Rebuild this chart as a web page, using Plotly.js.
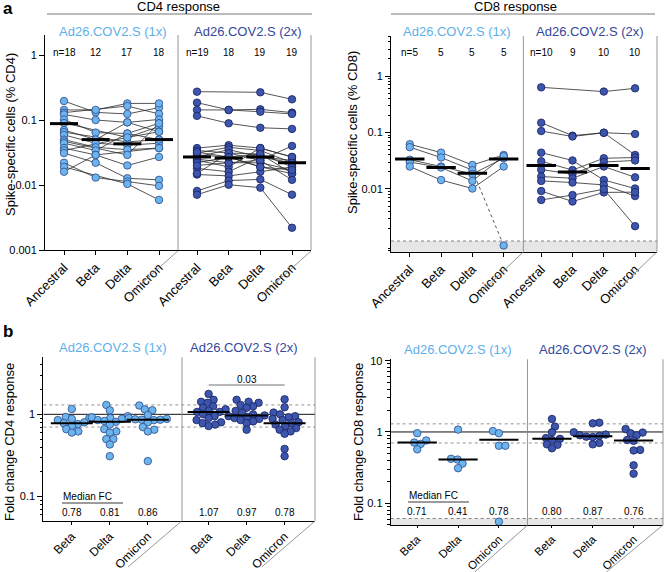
<!DOCTYPE html>
<html><head><meta charset="utf-8">
<script src="https://cdn.plot.ly/plotly-3.0.1.min.js"></script>
<style>html,body{margin:0;padding:0;background:#fff;} #chart{width:664px;height:572px;}</style>
</head><body><div id="chart"></div>
<script>
// ---------------- DATA ----------------
const variants4 = ['Ancestral','Beta','Delta','Omicron'];
const variants3 = ['Beta','Delta','Omicron'];
const group1x = 'Ad26.COV2.S (1x)';
const group2x = 'Ad26.COV2.S (2x)';

// CD4 % spike-specific, per subject: [Ancestral, Beta, Delta, Omicron]
const cd4_1x = [
 [0.196,0.131,0.124,0.155],[0.143,0.143,0.180,0.180],[0.130,null,0.164,0.124],
 [0.122,0.100,0.092,0.102],[0.102,0.064,0.062,0.089],[0.090,null,0.054,0.079],
 [0.070,0.050,0.092,0.066],[0.065,null,0.046,0.050],[0.059,0.044,0.041,0.044],
 [0.050,0.038,0.035,0.037],[0.047,null,0.029,0.089],[0.044,0.034,0.062,0.050],
 [0.037,0.029,0.020,0.027],[0.034,null,0.054,0.066],[0.031,0.022,0.0127,0.012],
 [0.022,0.013,0.0113,0.0097],[0.019,null,0.0104,0.0059],[0.016,0.029,null,0.037]
];
const cd4_2x = [
 [0.273,null,0.267,0.208],[0.185,0.143,0.146,0.130],[0.143,0.143,0.134,0.124],
 [0.116,0.089,0.076,0.073],[0.037,0.041,0.037,0.027],[0.034,0.031,0.024,0.040],
 [0.031,0.038,0.034,0.022],[0.029,0.027,0.030,0.019],[0.027,0.035,0.027,0.024],
 [0.025,0.022,0.022,0.017],[0.024,0.019,0.037,0.027],[0.022,0.027,0.019,0.015],
 [0.018,0.016,0.027,0.022],[0.0145,0.0138,0.016,0.019],[0.015,0.031,0.030,0.015],
 [0.0081,0.0117,0.0122,0.0071],[0.0071,0.0101,0.0091,0.0022],[0.020,0.022,0.024,0.012],
 [0.032,0.027,0.019,0.017]
];
const cd4_n1x = ['n=18','12','17','18'];
const cd4_n2x = ['n=19','18','19','19'];
const cd4_med1x = [0.088,0.050,0.043,0.050];
const cd4_med2x = [0.027,0.026,0.027,0.022];

// CD8 % spike-specific
const cd8_1x = [
 [0.062,0.044,0.0266,0.040],[0.055,0.036,0.0216,0.001],[0.033,0.025,0.0184,0.035],
 [0.030,0.024,0.0139,0.038],[0.025,0.0144,0.0102,0.025]
];
const cd8_2x = [
 [0.63,null,0.53,0.605],[0.149,0.088,0.099,0.094],[0.106,0.085,0.099,0.040],
 [0.044,0.032,0.0144,0.0102],[0.031,0.0216,0.035,0.036],[0.022,0.0184,0.030,0.032],
 [0.0166,0.0155,0.025,0.0161],[0.0139,0.0130,0.0118,0.0075],[0.0092,0.0060,0.0087,0.0088],
 [0.0064,0.0078,0.0099,0.0022]
];
const cd8_n1x = ['n=5','5','5','5'];
const cd8_n2x = ['n=10','9','10','10'];
const cd8_med1x = [0.034,0.024,0.019,0.034];
const cd8_med2x = [0.026,0.020,0.026,0.023];
const cd8_lod = 0.0012;

// Fold change CD4
const fc4_1x_beta = [1.16,0.93,0.90,0.88,0.85,0.80,0.78,0.76,0.72,0.66,0.62,0.60];
const fc4_1x_delta = [1.30,1.12,0.95,0.92,0.90,0.88,0.85,0.83,0.81,0.75,0.66,0.62,0.60,0.50,0.50,0.43,0.31];
const fc4_1x_omicron = [1.28,1.15,1.12,0.98,0.90,0.88,0.87,0.86,0.86,0.85,0.80,0.70,0.65,0.62,0.27];
const fc4_2x_beta = [1.77,1.50,1.42,1.38,1.25,1.20,1.15,1.10,1.07,1.07,1.00,0.95,0.90,0.85,0.80,0.78,0.75,0.72];
const fc4_2x_delta = [1.50,1.42,1.38,1.30,1.25,1.20,1.10,1.05,1.00,0.97,0.95,0.93,0.90,0.88,0.85,0.82,0.78,0.65];
const fc4_2x_omicron = [1.52,1.22,1.05,1.00,0.95,0.92,0.88,0.85,0.80,0.78,0.75,0.72,0.68,0.65,0.62,0.58,0.38,0.31];
const fc4_med1x = [0.78,0.81,0.86];
const fc4_med2x = [1.07,0.97,0.78];
const fc4_pvalue = '0.03';

// Fold change CD8
const fc8_1x_beta = [0.96,0.76,0.71,0.68,0.57];
const fc8_1x_delta = [1.08,0.42,0.41,0.36,0.31];
const fc8_1x_omicron = [1.03,0.96,0.64,0.64,0.055];
const fc8_2x_beta = [1.52,1.19,0.99,0.82,0.80,0.77,0.67,0.66,0.59];
const fc8_2x_delta = [1.35,1.32,0.99,0.92,0.90,0.88,0.86,0.85,0.70,0.67];
const fc8_2x_omicron = [1.10,0.98,0.96,0.90,0.77,0.75,0.56,0.55,0.34,0.26];
const fc8_med1x = [0.71,0.41,0.78];
const fc8_med2x = [0.80,0.87,0.76];
const fc8_lod = 0.061;

const fcRefLine = 1;
const fcBand = [0.7, 1.3];

// ---------------- STYLE / LAYOUT ----------------
const W = 664, H = 572;
const px = p => p / W, py = p => 1 - p / H;
const FONT = 'Arial, "Liberation Sans", sans-serif';
const LIGHT = '#6cb4ee', DARK = '#3c55ad';
const LIGHT_EDGE = '#2f4a86', DARK_EDGE = '#18215e';
const LIGHT_TXT = '#5eb0ea', DARK_TXT = '#33479c';
const GREY = '#8a8a8a';

const top1 = [0,1,2,3], top2 = [4.2,5.2,6.2,7.2];
const cd4XR = [-0.6,7.8], cd8XR = [-0.6,7.9];
const fc1 = [0,1,2], fc4p2 = [3.6,4.6,5.6], fc8p2 = [3.3,4.3,5.3];
const fc4XR = [-0.75,6.4], fc8XR = [-0.65,6.02];

const traces = [];

function pairedLines(subjects, pos, xa, ya, lod){
  const sx=[], sy=[], dx=[], dy=[];
  subjects.forEach(s => {
    const pts = [];
    s.forEach((v,i) => { if(v!==null) pts.push([pos[i], v]); });
    for(let k=0;k<pts.length-1;k++){
      const a=pts[k], b=pts[k+1];
      const dashed = lod && (a[1] < lod || b[1] < lod);
      (dashed?dx:sx).push(a[0], b[0], null);
      (dashed?dy:sy).push(a[1], b[1], null);
    }
  });
  traces.push({x:sx,y:sy,mode:'lines',line:{color:'#2a2a2a',width:0.8},xaxis:xa,yaxis:ya,hoverinfo:'skip'});
  if(dx.length) traces.push({x:dx,y:dy,mode:'lines',line:{color:'#2a2a2a',width:0.8,dash:'dot'},xaxis:xa,yaxis:ya,hoverinfo:'skip'});
}
function pairedPoints(subjects, pos, fill, edge, xa, ya){
  const x=[], y=[];
  subjects.forEach(s => s.forEach((v,i) => { if(v!==null){ x.push(pos[i]); y.push(v); } }));
  traces.push({x,y,mode:'markers',marker:{size:7.5,color:fill,line:{color:edge,width:0.8}},xaxis:xa,yaxis:ya});
}
function medianBars(meds, pos, xa, ya, w, t){
  traces.push({x:pos,y:meds,mode:'markers',marker:{symbol:'line-ew',size:w,color:'#000',line:{color:'#000',width:t}},xaxis:xa,yaxis:ya});
}
function swarm(vals, pxX, pxDec, diam){
  const idx = vals.map((v,i)=>i).sort((a,b)=>vals[a]-vals[b]);
  const placed=[], off=new Array(vals.length);
  let flip = 1;
  idx.forEach(i => {
    const y = Math.log10(vals[i]) * pxDec;
    let best = null;
    for(let k=0;k<400 && best===null;k++){
      const c = k*0.5;
      const cands = k===0 ? [0] : [flip*c, -flip*c];
      for(const cc of cands){
        if(placed.every(p => Math.hypot(p.x-cc, p.y-y) >= diam)){ best = cc; break; }
      }
    }
    if(best !== 0) flip = best > 0 ? -1 : 1;
    placed.push({x:best,y}); off[i] = best / pxX;
  });
  return off;
}
function swarmPoints(vals, center, pxX, pxDec, fill, edge, xa, ya){
  const off = swarm(vals, pxX, pxDec, 6.3);
  traces.push({x:vals.map((v,i)=>center+off[i]),y:vals,mode:'markers',
    marker:{size:7.5,color:fill,line:{color:edge,width:0.8}},xaxis:xa,yaxis:ya});
}
function hline(yv, xr, xa, ya, color, width, dash){
  traces.push({x:[xr[0],xr[1]],y:[yv,yv],mode:'lines',line:{color,width,dash},xaxis:xa,yaxis:ya,hoverinfo:'skip'});
}
function band(y0, y1, xr, xa, ya){
  traces.push({x:[xr[0],xr[1],xr[1],xr[0],xr[0]],y:[y0,y0,y1,y1,y0],mode:'lines',fill:'toself',
    fillcolor:'#e6e6e6',line:{width:0},xaxis:xa,yaxis:ya,hoverinfo:'skip'});
  hline(y1, xr, xa, ya, '#666', 0.8, 'dot');
}

// Panel a - CD4
pairedLines(cd4_1x, top1, 'x', 'y');
pairedLines(cd4_2x, top2, 'x', 'y');
pairedPoints(cd4_1x, top1, LIGHT, LIGHT_EDGE, 'x', 'y');
pairedPoints(cd4_2x, top2, DARK, DARK_EDGE, 'x', 'y');
medianBars(cd4_med1x, top1, 'x', 'y', 20, 3);
medianBars(cd4_med2x, top2, 'x', 'y', 20, 3);

// Panel a - CD8
band(0.0005, cd8_lod, cd8XR, 'x2', 'y2');
pairedLines(cd8_1x, top1, 'x2', 'y2', cd8_lod);
pairedLines(cd8_2x, top2, 'x2', 'y2', cd8_lod);
pairedPoints(cd8_1x, top1, LIGHT, LIGHT_EDGE, 'x2', 'y2');
pairedPoints(cd8_2x, top2, DARK, DARK_EDGE, 'x2', 'y2');
medianBars(cd8_med1x, top1, 'x2', 'y2', 21, 3);
medianBars(cd8_med2x, top2, 'x2', 'y2', 21, 3);

// Panel b - FC CD4
hline(fcBand[1], fc4XR, 'x3', 'y3', '#777', 0.8, 'dot');
hline(fcBand[0], fc4XR, 'x3', 'y3', '#777', 0.8, 'dot');
hline(fcRefLine, fc4XR, 'x3', 'y3', '#111', 1, 'solid');
[fc4_1x_beta, fc4_1x_delta, fc4_1x_omicron].forEach((v,i)=>swarmPoints(v, fc1[i], 38, 82.3, LIGHT, LIGHT_EDGE, 'x3','y3'));
[fc4_2x_beta, fc4_2x_delta, fc4_2x_omicron].forEach((v,i)=>swarmPoints(v, fc4p2[i], 38, 82.3, DARK, DARK_EDGE, 'x3','y3'));
medianBars(fc4_med1x, fc1, 'x3', 'y3', 30, 2);
medianBars(fc4_med2x, fc4p2, 'x3', 'y3', 30, 2);

// Panel b - FC CD8
band(0.03, fc8_lod, fc8XR, 'x4', 'y4');
hline(fcBand[1], fc8XR, 'x4', 'y4', '#777', 0.8, 'dot');
hline(fcBand[0], fc8XR, 'x4', 'y4', '#777', 0.8, 'dot');
hline(fcRefLine, fc8XR, 'x4', 'y4', '#111', 1, 'solid');
[fc8_1x_beta, fc8_1x_delta, fc8_1x_omicron].forEach((v,i)=>swarmPoints(v, fc1[i], 40.8, 71.2, LIGHT, LIGHT_EDGE, 'x4','y4'));
[fc8_2x_beta, fc8_2x_delta, fc8_2x_omicron].forEach((v,i)=>swarmPoints(v, fc8p2[i], 40.8, 71.2, DARK, DARK_EDGE, 'x4','y4'));
medianBars(fc8_med1x, fc1, 'x4', 'y4', 28, 2);
medianBars(fc8_med2x, fc8p2, 'x4', 'y4', 28, 2);

// ---------------- AXES ----------------
function minorLog(lo, hi){
  const v=[];
  for(let e=lo;e<=hi;e++) for(let m=2;m<=9;m++) v.push(m*Math.pow(10,e));
  return v;
}
const xBase = {ticks:'outside',ticklen:4,tickcolor:'#000',showline:true,linecolor:'#000',linewidth:1,
  showgrid:false,zeroline:false,tickangle:-45,tickfont:{family:FONT,size:13,color:'#000'},fixedrange:true};
const yBase = {type:'log',ticks:'outside',ticklen:5,tickcolor:'#000',showline:true,linecolor:'#000',linewidth:1,
  showgrid:false,zeroline:false,tickfont:{family:FONT,size:11,color:'#000'},fixedrange:true};
const xBottom = Object.assign({}, xBase, {ticklen:3, tickfont:{family:FONT,size:12,color:'#000'}});
const xBottomR = Object.assign({}, xBase, {ticklen:2, tickfont:{family:FONT,size:11.5,color:'#000'}});

const layout = {
  width:W, height:H, margin:{l:0,r:0,t:0,b:0}, showlegend:false,
  paper_bgcolor:'#fff', plot_bgcolor:'rgba(0,0,0,0)', font:{family:FONT,color:'#000'},
  xaxis: Object.assign({}, xBase, {domain:[px(45),px(311)], range:cd4XR, anchor:'y',
    tickvals:[...top1,...top2], ticktext:[...variants4,...variants4]}),
  yaxis: Object.assign({}, yBase, {domain:[py(250),py(35)], range:[-3,0.308], anchor:'x',
    tickvals:[0.001,0.01,0.1,1], ticktext:['0.001','0.01','0.1','1']}),
  xaxis2: Object.assign({}, xBase, {domain:[px(391),px(657)], range:cd8XR, anchor:'y2',
    tickvals:[...top1,...top2], ticktext:[...variants4,...variants4]}),
  yaxis2: Object.assign({}, yBase, {domain:[py(251.7),py(36)], range:[-3.11,0.708], anchor:'x2',
    tickvals:[0.01,0.1,1], ticktext:['0.01','0.1','1'],
    minor:{ticks:'outside',ticklen:2.5,tickcolor:'#000',tickvals:minorLog(-4,0)}}),
  xaxis3: Object.assign({}, xBottom, {domain:[px(43.3),px(315)], range:fc4XR, anchor:'y3',
    tickvals:[...fc1,...fc4p2], ticktext:[...variants3,...variants3]}),
  yaxis3: Object.assign({}, yBase, {domain:[py(520.7),py(357.3)], range:[-1.293,0.693], anchor:'x3',
    tickvals:[0.1,1], ticktext:['0.1','1'],
    minor:{ticks:'outside',ticklen:2.5,tickcolor:'#000',tickvals:minorLog(-2,0)}}),
  xaxis4: Object.assign({}, xBottomR, {domain:[px(390.7),px(663)], range:fc8XR, anchor:'y4',
    tickvals:[...fc1,...fc8p2], ticktext:[...variants3,...variants3]}),
  yaxis4: Object.assign({}, yBase, {domain:[py(525),py(359.3)], range:[-1.306,1.02], anchor:'x4',
    tickvals:[0.1,1,10], ticktext:['0.1','1','10'],
    minor:{ticks:'outside',ticklen:2.5,tickcolor:'#000',tickvals:minorLog(-2,0)}}),
};

// ---------------- SHAPES ----------------
const shapes = [];
function pline(x0,y0,x1,y1,color,width){
  shapes.push({type:'line',xref:'paper',yref:'paper',x0:px(x0),y0:py(y0),x1:px(x1),y1:py(y1),line:{color,width}});
}
function vline(xa, xval, ya, isDomain){
  shapes.push({type:'line',xref:isDomain?xa+' domain':xa,yref:ya+' domain',x0:xval,x1:xval,y0:0,y1:1,line:{color:GREY,width:0.9}});
}
pline(47,14,312,14,'#777',1);
pline(391,14,655,14,'#777',1);
vline('x',3.6,'y'); vline('x',1,'y',true);
vline('x2',3.63,'y2'); vline('x2',1,'y2',true);
vline('x3',2.9,'y3'); vline('x3',1,'y3',true);
vline('x4',2.7,'y4'); vline('x4',1,'y4',true);
pline(177.7,251,129,295,GREY,0.9); pline(311,251,262,295,GREY,0.9);
pline(523.3,252,476,297,GREY,0.9); pline(656.7,252,610,297,GREY,0.9);
pline(181.7,521,128,567,GREY,0.9); pline(315,521,261.7,567,GREY,0.9);
pline(527.7,525,475,571.7,GREY,0.9); pline(663,525,606.7,571.7,GREY,0.9);
shapes.push({type:'line',xref:'x3',yref:'paper',x0:fc4p2[0],x1:fc4p2[2],y0:py(385),y1:py(385),line:{color:'#a0a0a0',width:1.5}});
pline(62,503,123,503,'#222',0.9);
pline(408,502,469,502,'#222',0.9);
layout.shapes = shapes;

// ---------------- ANNOTATIONS ----------------
const ann = [];
function txt(text, x, y, opts){
  ann.push(Object.assign({text, x, y, xref:'paper', yref:'paper', showarrow:false,
    xanchor:'center', yanchor:'middle', font:{family:FONT,size:13,color:'#000'}}, opts||{}));
}
txt('<b>a</b>', px(1), py(9), {xanchor:'left', font:{family:FONT,size:17,color:'#000'}});
txt('<b>b</b>', px(1), py(331), {xanchor:'left', font:{family:FONT,size:17,color:'#000'}});
txt('CD4 response', px(178), py(6));
txt('CD8 response', px(515), py(6));
[[113,32,group1x,LIGHT_TXT],[248,32,group2x,DARK_TXT],[457,32,group1x,LIGHT_TXT],[590,32,group2x,DARK_TXT],
 [113,347,group1x,LIGHT_TXT],[244,347,group2x,DARK_TXT],[458,349,group1x,LIGHT_TXT],[593,349,group2x,DARK_TXT]]
 .forEach(g => txt(g[2], px(g[0]), py(g[1]), {font:{family:FONT,size:13,color:g[3]}}));
txt('Spike-specific cells (% CD4)', px(10), py(135), {textangle:-90});
txt('Spike-specific cells (% CD8)', px(352), py(133), {textangle:-90});
txt('Fold change CD4 response', px(9), py(442), {textangle:-90});
txt('Fold change CD8 response', px(358), py(442), {textangle:-90});
function nLabels(labels, pos, xa, y){
  labels.forEach((t,i)=>ann.push({text:t,x:pos[i],y:py(y),xref:xa,yref:'paper',showarrow:false,
    xanchor:'center',yanchor:'middle',font:{family:FONT,size:10,color:'#000'}}));
}
nLabels(cd4_n1x, top1, 'x', 52); nLabels(cd4_n2x, top2, 'x', 52);
nLabels(cd8_n1x, top1, 'x2', 52); nLabels(cd8_n2x, top2, 'x2', 52);
nLabels(fc4_med1x.map(v=>v.toFixed(2)), fc1, 'x3', 512.5);
nLabels(fc4_med2x.map(v=>v.toFixed(2)), fc4p2, 'x3', 512.5);
nLabels(fc8_med1x.map(v=>v.toFixed(2)), fc1, 'x4', 511);
nLabels(fc8_med2x.map(v=>v.toFixed(2)), fc8p2, 'x4', 511);
txt('Median FC', px(61), py(496.5), {xanchor:'left', font:{family:FONT,size:10,color:'#000'}});
txt('Median FC', px(407), py(496), {xanchor:'left', font:{family:FONT,size:10,color:'#000'}});
ann.push({text:fc4_pvalue,x:fc4p2[1],y:py(379),xref:'x3',yref:'paper',showarrow:false,xanchor:'center',yanchor:'middle',
  font:{family:FONT,size:10,color:'#000'}});
layout.annotations = ann;

Plotly.newPlot('chart', traces, layout, {staticPlot:true, displayModeBar:false});
</script></body></html>
